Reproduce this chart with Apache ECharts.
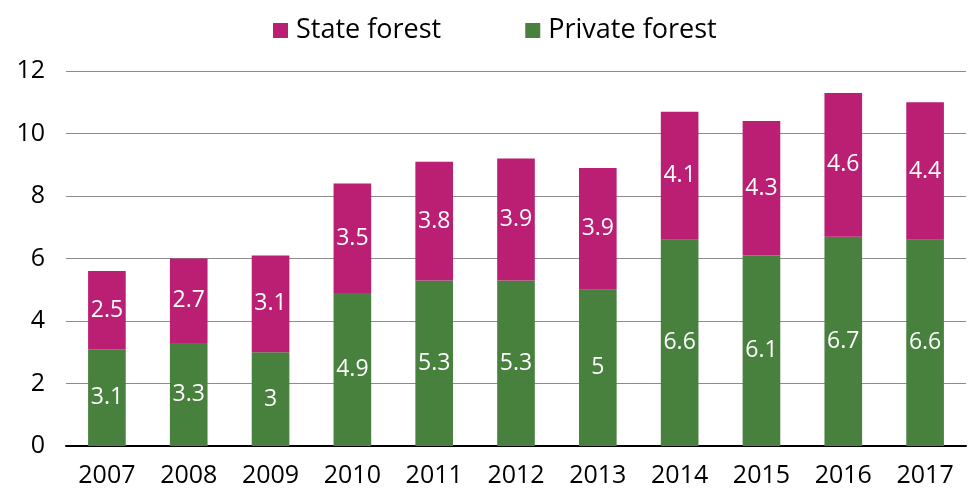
<!DOCTYPE html>
<html>
<head>
<meta charset="utf-8">
<script src="https://cdn.jsdelivr.net/npm/echarts@6/dist/echarts.min.js"></script>
<style>
html, body { margin: 0; padding: 0; background: #fff; }
#main { width: 970px; height: 488px; }
</style>
</head>
<body>
<div id="main"></div>
<script>
var years = ['2007', '2008', '2009', '2010', '2011', '2012', '2013', '2014', '2015', '2016', '2017'];
var privateForest = [3.1, 3.3, 3, 4.9, 5.3, 5.3, 5, 6.6, 6.1, 6.7, 6.6];
var stateForest = [2.5, 2.7, 3.1, 3.5, 3.8, 3.9, 3.9, 4.1, 4.3, 4.6, 4.4];

var font = 'Open Sans';
var chart = echarts.init(document.getElementById('main'));

var label = {
    show: true,
    position: 'inside',
    color: '#fff',
    fontSize: 23,
    fontFamily: font
};

option = {
    animation: false,
    legend: {
        top: 12,
        left: 268,
        itemWidth: 15,
        itemHeight: 15,
        itemGap: 84,
        icon: 'rect',
        textStyle: { fontSize: 27, fontFamily: font, color: '#000', padding: [0, 0, 0, 3] },
        data: ['State forest', 'Private forest']
    },
    grid: { left: 66, right: 4, top: 71, bottom: 41 },
    xAxis: {
        type: 'category',
        data: years,
        axisLine: { lineStyle: { color: '#000', width: 2 } },
        axisTick: { show: false },
        axisLabel: { fontSize: 25, fontFamily: font, color: '#000', margin: 17 }
    },
    yAxis: {
        type: 'value',
        min: 0,
        max: 12,
        interval: 2,
        axisLine: { show: false },
        axisTick: { show: false },
        axisLabel: { fontSize: 25, fontFamily: font, color: '#000', margin: 21 },
        splitLine: { lineStyle: { color: '#8c8c8c', width: 1 } }
    },
    series: [
        {
            name: 'Private forest',
            type: 'bar',
            stack: 'total',
            barWidth: '46%',
            itemStyle: { color: '#47813d' },
            label: label,
            data: privateForest
        },
        {
            name: 'State forest',
            type: 'bar',
            stack: 'total',
            barWidth: '46%',
            itemStyle: { color: '#ba1f74' },
            label: label,
            data: stateForest
        }
    ]
};

chart.setOption(option);
window.addEventListener('resize', function () {
    chart.resize();
});
</script>
</body>
</html>
